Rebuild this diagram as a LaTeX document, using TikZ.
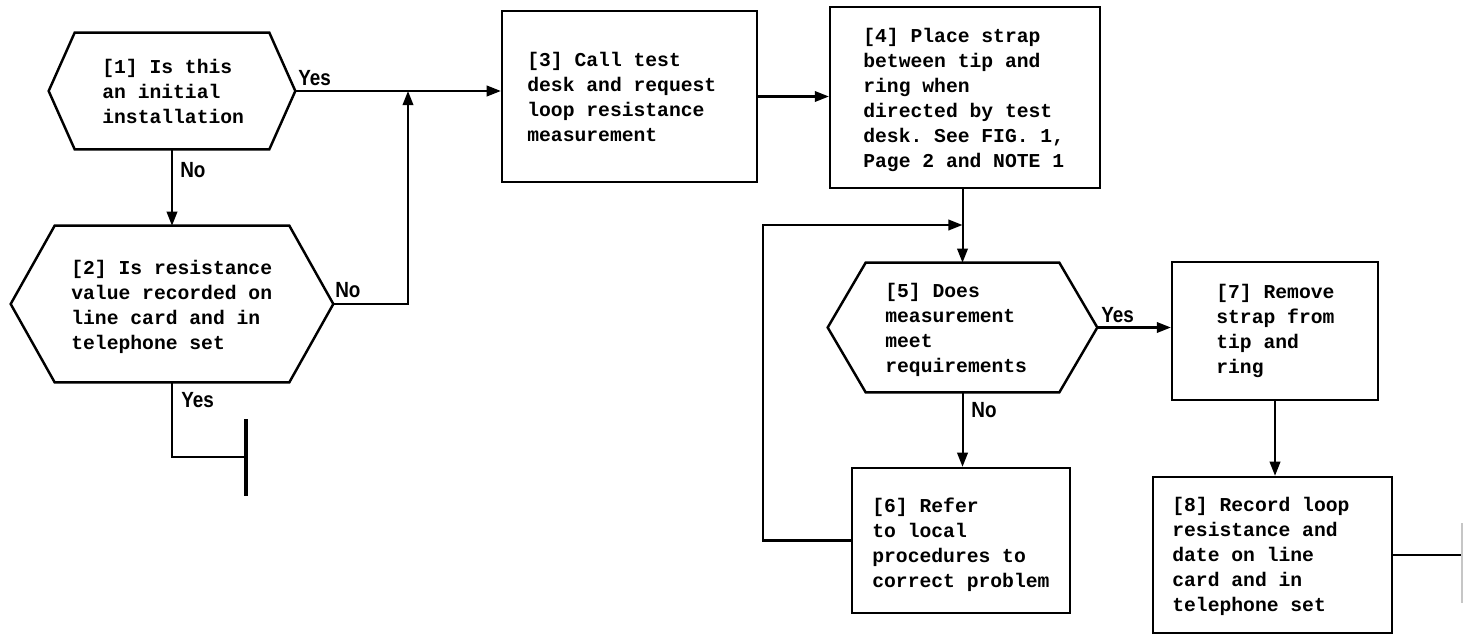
\documentclass[tikz,border=0pt]{standalone}
\usepackage{fontspec}
\setmainfont{Liberation Serif}
\newfontfamily\monofont{Liberation Mono}
\newfontfamily\labfont[FakeStretch=0.86]{Liberation Sans}
\usetikzlibrary{arrows.meta,calc}
\frenchspacing
\newcommand\hexpath[2]{\draw[shapeline] (#1.west) -- ([xshift=#2]#1.north west) -- ([xshift=-#2]#1.north east) -- (#1.east) -- ([xshift=-#2]#1.south east) -- ([xshift=#2]#1.south west) -- cycle;}
\begin{document}
\begin{tikzpicture}[x=0.02cm,y=-0.02cm,
  shapeline/.style={draw=black,line width=1.4pt,line join=miter},
  boxnode/.style={shapeline,rectangle,inner sep=0pt},
  hexarea/.style={rectangle,inner sep=0pt},
  txt/.style={inner sep=0pt,align=left,anchor=base west,font=\monofont\bfseries\fontsize{11.2pt}{14.2pt}\selectfont\frenchspacing},
  lab/.style={inner sep=0pt,anchor=west,font=\labfont\bfseries\fontsize{12.5pt}{14pt}\selectfont},
  conn/.style={line width=1.15pt,draw=black},
  arr/.style={conn,-{Triangle[length=8pt,width=6pt]}},
  barline/.style={line width=2.4pt,draw=black},
]
\fill[white] (0,0) rectangle (1463,635);
\useasboundingbox (0,0) rectangle (1463,635);

% shapes
\node[hexarea,minimum width=4.92cm,minimum height=2.32cm] (h1) at (172,91) {};
\hexpath{h1}{0.52cm}
\node[hexarea,minimum width=6.44cm,minimum height=3.12cm] (h2) at (172,304) {};
\hexpath{h2}{0.88cm}
\node[boxnode,minimum width=5.1cm,minimum height=3.42cm] (b3) at (629.5,96.5) {};
\node[boxnode,minimum width=5.4cm,minimum height=3.62cm] (b4) at (965,97.5) {};
\node[hexarea,minimum width=5.38cm,minimum height=2.58cm] (h5) at (962.5,327.5) {};
\hexpath{h5}{0.76cm}
\node[boxnode,minimum width=4.36cm,minimum height=2.9cm] (b6) at (961,540.5) {};
\node[boxnode,minimum width=4.12cm,minimum height=2.76cm] (b7) at (1275,331) {};
\node[boxnode,minimum width=4.78cm,minimum height=3.12cm] (b8) at (1272.5,555) {};

% texts (anchored at the baseline of the last line)
\node[txt] (t1) at (102,123) {[1] Is this\\an initial\\installation};
\node[txt] (t2) at (71,349) {[2] Is resistance\\value recorded on\\line card and in\\telephone set};
\node[txt] (t3) at (527,141) {[3] Call test\\desk and request\\loop resistance\\measurement};
\node[txt] (t4) at (863,167) {[4] Place strap\\between tip and\\ring when\\directed by test\\desk. See FIG. 1,\\Page 2 and NOTE 1};
\node[txt] (t5) at (885,372) {[5] Does\\measurement\\meet\\requirements};
\node[txt] (t6) at (872,587) {[6] Refer\\to local\\procedures to\\correct problem};
\node[txt] (t7) at (1216,373) {[7] Remove\\strap from\\tip and\\ring};
\node[txt] (t8) at (1172,611) {[8] Record loop\\resistance and\\date on line\\card and in\\telephone set};

% coordinates
\coordinate (j1) at (408,91);
\coordinate (bar) at (246,457);
\coordinate (bartop) at (246,419);
\coordinate (barbot) at (246,496);
\coordinate (loopc) at (763,225);
\coordinate (out) at (1463,557);
\coordinate (edgetop) at (1462,523);
\coordinate (edgebot) at (1462,603);

% connectors
\draw[arr] (h1.east) -- (h1.east -| b3.west);
\draw[arr] (h1.south) -- (h2.north);
\draw[arr] (h2.east) -| (j1);
\draw[conn] (h2.south) |- (bar);
\draw[barline] (bartop) -- (barbot);
\draw[arr] (b3.east) -- (b3.east -| b4.west);
\draw[arr] (h5.north |- b4.south) -- (h5.north);
\draw[arr] (b6.west) -| (loopc) -- (h5.north |- loopc);
\draw[arr] (h5.east) -- (h5.east -| b7.west);
\draw[arr] (h5.south) -- (h5.south |- b6.north);
\draw[arr] (b7.south) -- (b7.south |- b8.north);
\draw[conn] (b8.east) -- (b8.east -| out);
\draw[gray!45,line width=0.6pt] (edgetop) -- (edgebot);

% labels
\node[lab] (l1) at (298,78) {Yes};
\node[lab] (l2) at (180,170) {No};
\node[lab] (l3) at (335,290) {No};
\node[lab] (l4) at (181,400) {Yes};
\node[lab] (l5) at (1101,315) {Yes};
\node[lab] (l6) at (971,410) {No};
\end{tikzpicture}
\end{document}
